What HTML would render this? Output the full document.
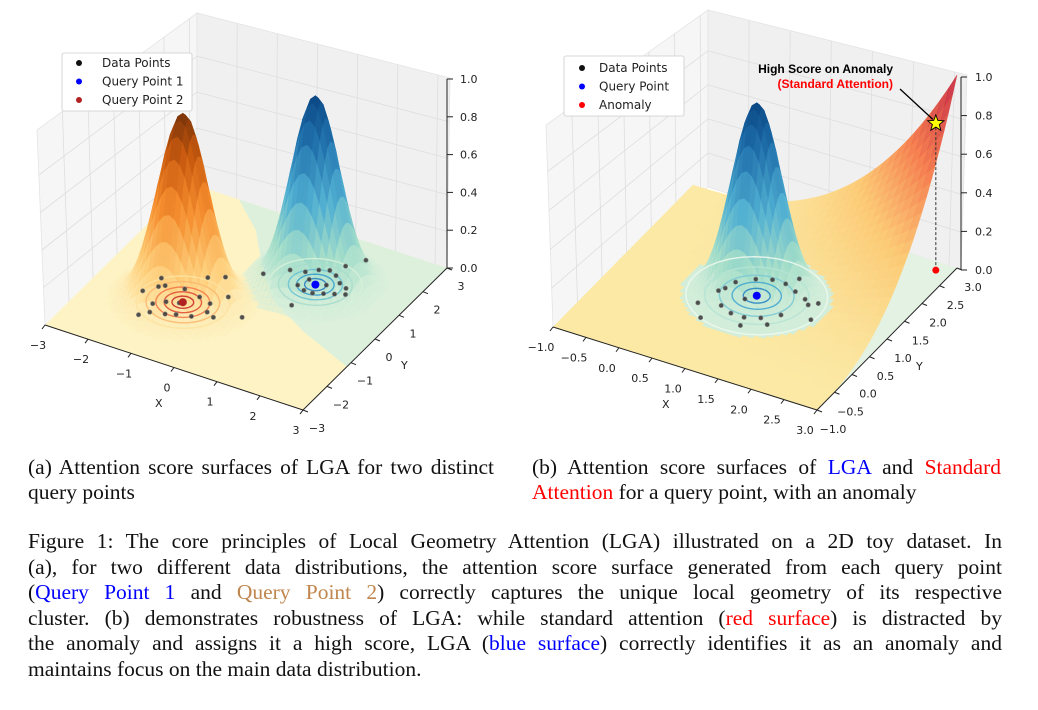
<!DOCTYPE html>
<html><head><meta charset="utf-8">
<style>
body{margin:0;background:#fff;width:1038px;height:710px;overflow:hidden;position:relative;font-family:"Liberation Serif",serif;}
svg{position:absolute;left:0;top:0;}
.cap{position:absolute;font-size:21.5px;line-height:24.5px;color:#111;}
.ln{text-align:justify;text-align-last:justify;white-space:nowrap;}
.ln.last{text-align-last:left;}
.fig{position:absolute;left:28px;top:529px;width:974px;font-size:21.5px;line-height:25.6px;color:#111;}
</style></head><body>
<svg id="chart" width="1038" height="450" viewBox="0 0 1038 450" font-family="'DejaVu Sans','Liberation Sans',sans-serif"></svg>

<div class="cap" style="left:28px;top:455px;width:466px;">
<div class="ln">(a) Attention score surfaces of LGA for two distinct</div>
<div class="ln last">query points</div></div>
<div class="cap" style="left:532px;top:455px;width:469px;">
<div class="ln">(b) Attention score surfaces of <span style="color:#0000ff">LGA</span> and <span style="color:#ff0000">Standard</span></div>
<div class="ln last"><span style="color:#ff0000">Attention</span> for a query point, with an anomaly</div></div>

<div class="fig">
<div class="ln">Figure 1: The core principles of Local Geometry Attention (LGA) illustrated on a 2D toy dataset. In</div>
<div class="ln">(a), for two different data distributions, the attention score surface generated from each query point</div>
<div class="ln">(<span style="color:#0000ff">Query Point 1</span> and <span style="color:#c0864e">Query Point 2</span>) correctly captures the unique local geometry of its respective</div>
<div class="ln">cluster. (b) demonstrates robustness of LGA: while standard attention (<span style="color:#ff0000">red surface</span>) is distracted by</div>
<div class="ln">the anomaly and assigns it a high score, LGA (<span style="color:#0000ff">blue surface</span>) correctly identifies it as an anomaly and</div>
<div class="ln last">maintains focus on the main data distribution.</div>
</div>

<script>
// ---------- data ----------
const zTicks=[0,0.2,0.4,0.6,0.8,1.0];
const zTickLabels=["0.0","0.2","0.4","0.6","0.8","1.0"];
const aXTicks=[-3,-2,-1,0,1,2,3];
const aYTicks=[-3,-2,-1,0,1,2,3];
const bTicks=[-1,-0.5,0,0.5,1,1.5,2,2.5,3];
const bTickLabels=["\u22121.0","\u22120.5","0.0","0.5","1.0","1.5","2.0","2.5","3.0"];
const aQuery1=[1.0,1.1];      // blue
const aQuery2=[-1.0,-0.84];   // orange
const aSigma=[0.5,0.52];
const aPointsX=[-1.9,-1.7,-1.5,-1.3,-1.1,-0.9,-0.6,-0.4,-1.6,-1.2,-0.8,-0.5,-1.4,-0.2,-1.0,-0.7,-1.8,-0.3,0.3,-1.55,-1.05, 0.3,0.6,0.8,1.0,1.2,1.4,1.6,0.7,0.9,1.1,1.3,1.5,0.8,1.2,1.7,1.45,0.95,-0.1,1.2];
const aPointsY=[-0.9,-0.6,-1.2,-1.0,-1.4,-1.3,-1.2,-0.9,-0.5,-0.4,-0.5,-0.6,-1.5,-1.0,0.2,0.4,-0.3,-0.2,-0.7,-1.7,-0.9, 1.3,1.4,1.6,1.7,1.6,1.4,1.3,0.9,0.8,0.8,0.9,1.0,1.2,1.2,1.1,2.4,0.2,0.9,2.0];
const bQuery=[1.0,1.05];
const bSigma=0.34;
const bPointsX=[0.5,0.6,0.8,1.0,1.2,1.4,1.6,1.7,0.7,0.9,1.1,1.3,1.5,0.4,0.6,1.9,1.8,0.9,1.3,0.55,1.15,1.45];
const bPointsY=[0.9,1.2,1.4,1.5,1.5,1.4,1.3,1.2,0.6,0.5,0.5,0.6,0.8,0.5,0.2,0.9,1.3,0.9,1.7,1.0,0.3,0.5];
const anomaly=[2.78,2.81];
const redPower=2.6;

const NS="http://www.w3.org/2000/svg";
const svg=document.getElementById('chart');
function mk(tag,attrs,parent){const e=document.createElementNS(NS,tag);for(const k in attrs)e.setAttribute(k,attrs[k]);(parent||svg).appendChild(e);return e;}
function lerp(a,b,t){return a+(b-a)*t;}
function cmap(stops,v){v=Math.max(0,Math.min(1,v));for(let i=1;i<stops.length;i++){if(v<=stops[i][0]){const t=(v-stops[i-1][0])/(stops[i][0]-stops[i-1][0]);const a=stops[i-1][1],b=stops[i][1];return `rgb(${Math.round(lerp(a[0],b[0],t))},${Math.round(lerp(a[1],b[1],t))},${Math.round(lerp(a[2],b[2],t))})`;}}const l=stops[stops.length-1][1];return `rgb(${l})`;}
const orangeMap=[[0,[254,243,196]],[0.25,[254,205,120]],[0.55,[245,140,45]],[0.8,[200,90,15]],[1,[120,50,8]]];
const blueMap=[[0,[220,241,220]],[0.25,[160,220,200]],[0.5,[80,175,210]],[0.8,[30,110,170]],[1,[10,70,130]]];
const redMap=[[0,[253,232,160]],[0.3,[253,200,110]],[0.6,[246,120,70]],[1,[195,30,60]]];

function PA(x,y,z){const xp=x+3,yp=y+3;return [45+43*xp+24*yp,325+14.17*xp-23.67*yp-189*z];}
function PB(x,y,z){const xp=x+1,yp=y+1;return [553+66*xp+35*yp,327+20.75*xp-35.5*yp-193*z];}
function pts(arr){return arr.map(p=>p[0].toFixed(1)+','+p[1].toFixed(1)).join(' ');}

function panes(g,left,back,gridL,gridB){
  mk('polygon',{points:pts(left),fill:'#f6f6f6',stroke:'#e4e4e4','stroke-width':0.8},g);
  mk('polygon',{points:pts(back),fill:'#f0f0f0',stroke:'#e4e4e4','stroke-width':0.8},g);
  gridL.concat(gridB).forEach(l=>mk('line',{x1:l[0][0],y1:l[0][1],x2:l[1][0],y2:l[1][1],stroke:'#dedede','stroke-width':0.8},g));
}

// ===== Panel A =====
const gA=mk('g',{});
(function(){
  const left=[[37,130],[197,13],[197,200],[45,325]];
  const back=[[197,13],[450,78],[447,268],[197,200]];
  const gl=[],gb=[];
  for(let i=1;i<7;i++){const t=i/6.3;gl.push([[lerp(45,197,t),lerp(325,200,t)],[lerp(37,197,t),lerp(130,13,t)]]);}
  for(let i=1;i<7;i++){const t=i/6.3;gb.push([[lerp(197,447,t),lerp(200,268,t)],[lerp(197,450,t),lerp(13,78,t)]]);}
  for(let k=1;k<5;k++){const t=k/5.2;gl.push([[lerp(45,37,t),lerp(325,130,t)],[197,lerp(200,13,t)]]);gb.push([[197,lerp(200,13,t)],[lerp(447,450,t),lerp(268,78,t)]]);}
  panes(gA,left,back,gl,gb);
  const f=mk('polygon',{points:pts([PA(-3,-3,0),PA(-3,3,0),PA(3,3,0),PA(3,-3,0)]),fill:'#fdf3c4'},gA);
  const gz=mk('polygon',{points:pts([PA(-1.84,3,0),PA(3,3,0),PA(3,-1.17,0),PA(1.6,-0.5,0),PA(0.5,0.2,0),PA(-0.3,1.2,0),PA(-1.0,2.2,0)]),fill:'#ddf0dc'},gA);
  const quads=[];
  [[aQuery2,aSigma[1],orangeMap],[aQuery1,aSigma[0],blueMap]].forEach(s=>{
    const cx=s[0][0],cy=s[0][1],sg=s[1],N=36,R=2.1;
    const fz=(x,y)=>Math.exp(-((x-cx)**2+(y-cy)**2)/(2*sg*sg));
    for(let i=0;i<N;i++)for(let j=0;j<N;j++){
      const x0=cx-R+2*R*i/N,x1=cx-R+2*R*(i+1)/N,y0=cy-R+2*R*j/N,y1=cy-R+2*R*(j+1)/N;
      const zs=[fz(x0,y0),fz(x1,y0),fz(x1,y1),fz(x0,y1)];const zm=(zs[0]+zs[1]+zs[2]+zs[3])/4;
      if(Math.max(...zs)<0.02)continue;
      quads.push({d:((y0+y1)/2-(x0+x1)/2),p:[PA(x0,y0,zs[0]),PA(x1,y0,zs[1]),PA(x1,y1,zs[2]),PA(x0,y1,zs[3])],c:cmap(s[2],zm),o:zm<0.1?0.6:0.95});
    }
  });
  quads.sort((a,b)=>b.d-a.d);
  const sg=mk('g',{},gA);
  quads.forEach(q=>mk('polygon',{points:pts(q.p),fill:q.c,stroke:q.c,'stroke-width':0.4,'fill-opacity':q.o},sg));
  // contours & points on top
  [[aQuery2,['#fde2a0','#fbb870','#f47a4a','#e0503a','#c92f2f']],[aQuery1,['#d6f0d8','#a8dccc','#6cc3d2','#3aa0cc','#2a80c0']]].forEach((c,ci)=>{
    const rs=[0.95,0.75,0.55,0.38,0.22];
    rs.forEach((r,i)=>{const ring=[];for(let a=0;a<=36;a++){const th=a/36*2*Math.PI;ring.push(PA(c[0][0]+r*Math.cos(th),c[0][1]+r*Math.sin(th),0));}
      const p=mk('polyline',{points:pts(ring),fill:'none',stroke:c[1][i],'stroke-width':1.4,'stroke-opacity':0.9},gA);});
  });
  aPointsX.forEach((x,i)=>{const p=PA(x,aPointsY[i],0);const c=mk('circle',{cx:p[0],cy:p[1],r:2.2,fill:'#333',stroke:'#888','stroke-width':0.6,'fill-opacity':0.85},gA);});
  let p=PA(aQuery2[0],aQuery2[1],0);let c=mk('circle',{cx:p[0],cy:p[1],r:4,fill:'#b22222'},gA);
  p=PA(aQuery1[0],aQuery1[1],0);c=mk('circle',{cx:p[0],cy:p[1],r:4,fill:'#0000ff'},gA);
  const ax=mk('g',{stroke:'#222','stroke-width':1,fill:'none'},gA);
  let a=PA(-3,-3,0),b=PA(3,-3,0),d=PA(3,3,0);
  mk('line',{x1:a[0],y1:a[1],x2:b[0],y2:b[1]},ax);
  mk('line',{x1:b[0],y1:b[1],x2:d[0],y2:d[1]},ax);
  mk('line',{x1:447,y1:268,x2:447,y2:79},ax);
  aXTicks.forEach(v=>{const q=PA(v,-3,0);mk('line',{x1:q[0],y1:q[1],x2:q[0]-3,y2:q[1]+4},ax);const t=mk('text',{x:q[0]-7,y:q[1]+24,'font-size':11,fill:'#222','text-anchor':'middle'},gA);t.textContent=v<0?'\u2212'+(-v):String(v);});
  aYTicks.forEach(v=>{const q=PA(3,v,0);mk('line',{x1:q[0],y1:q[1],x2:q[0]+5,y2:q[1]+2},ax);const t=mk('text',{x:q[0]+14,y:q[1]+22,'font-size':11,fill:'#222','text-anchor':'middle'},gA);t.textContent=v<0?'\u2212'+(-v):String(v);});
  zTicks.forEach((v,i)=>{const y=268-189*v;mk('line',{x1:447,y1:y,x2:453,y2:y},ax);const t=mk('text',{x:460,y:y+4,'font-size':11,fill:'#222'},gA);t.textContent=zTickLabels[i];});
  let t=mk('text',{x:155,y:407,'font-size':11,fill:'#222'},gA);t.textContent='X';
  t=mk('text',{x:401,y:369,'font-size':11,fill:'#222'},gA);t.textContent='Y';
  const lg=mk('g',{},gA);
  mk('rect',{x:62,y:53,width:130,height:58,fill:'#fff',stroke:'#ccc','stroke-width':0.8,rx:2},lg);
  [['Data Points','#111'],['Query Point 1','#0000ff'],['Query Point 2','#b22222']].forEach((e,i)=>{const gg=mk('g',{},lg);mk('circle',{cx:79,cy:63+i*18.5,r:3,fill:e[1]},gg);const tt=mk('text',{x:102,y:67+i*18.5,'font-size':12,fill:'#222'},gg);tt.textContent=e[0];});
})();

// ===== Panel B =====
const gB=mk('g',{});
(function(){
  const left=[[546,125],[708,10],[708,187],[553,327]];
  const back=[[708,10],[967,75],[961,270],[708,187]];
  const gl=[],gb=[];
  for(let i=1;i<7;i++){const t=i/6.3;gl.push([[lerp(553,708,t),lerp(327,187,t)],[lerp(546,708,t),lerp(125,10,t)]]);gb.push([[lerp(708,961,t),lerp(187,270,t)],[lerp(708,967,t),lerp(10,75,t)]]);}
  for(let k=1;k<5;k++){const t=k/5.2;gl.push([[lerp(553,546,t),lerp(327,125,t)],[708,lerp(187,10,t)]]);gb.push([[708,lerp(187,10,t)],[lerp(961,967,t),lerp(270,75,t)]]);}
  panes(gB,left,back,gl,gb);
  const f=mk('polygon',{points:pts([PB(-1,-1,0),PB(-1,3,0),PB(3,3,0),PB(3,-1,0)]),fill:'#e4f2e4'},gB);
  const N=32,rz=(x,y)=>Math.pow(Math.max(0,(x+1)*(y+1)/16),redPower);
  const rq=[];
  for(let i=0;i<N;i++)for(let j=0;j<N;j++){
    const x0=-1+4*i/N,x1=-1+4*(i+1)/N,y0=-1+4*j/N,y1=-1+4*(j+1)/N;
    const zs=[rz(x0,y0),rz(x1,y0),rz(x1,y1),rz(x0,y1)];const zm=(zs[0]+zs[1]+zs[2]+zs[3])/4;
    rq.push({d:((y0+y1)/2-(x0+x1)/2),p:[PB(x0,y0,zs[0]),PB(x1,y0,zs[1]),PB(x1,y1,zs[2]),PB(x0,y1,zs[3])],c:cmap(redMap,zm)});
  }
  rq.sort((a,b)=>b.d-a.d);
  const rg=mk('g',{},gB);
  rq.forEach(q=>mk('polygon',{points:pts(q.p),fill:q.c,stroke:q.c,'stroke-width':0.4,'fill-opacity':0.93},rg));
  const cx=bQuery[0],cy=bQuery[1],sg=bSigma,M=36,R=1.3;
  const fz=(x,y)=>Math.exp(-((x-cx)**2+(y-cy)**2)/(2*sg*sg));
  // jagged pale base
  const bg=mk('g',{},gB);
  for(let i=0;i<M;i++)for(let j=0;j<M;j++){
    const x0=cx-R+2*R*i/M,x1=cx-R+2*R*(i+1)/M,y0=cy-R+2*R*j/M,y1=cy-R+2*R*(j+1)/M;
    const zc=fz((x0+x1)/2,(y0+y1)/2);if(zc<0.012)continue;
    mk('polygon',{points:pts([PB(x0,y0,0),PB(x1,y0,0),PB(x1,y1,0),PB(x0,y1,0)]),fill:'#d2eedb',stroke:'#d2eedb','stroke-width':0.4},bg);
  }
  const pg=mk('g',{},gB);
  const raised=[];
  for(let i=0;i<M;i++)for(let j=0;j<M;j++){
    const x0=cx-R+2*R*i/M,x1=cx-R+2*R*(i+1)/M,y0=cy-R+2*R*j/M,y1=cy-R+2*R*(j+1)/M;
    const zs=[fz(x0,y0),fz(x1,y0),fz(x1,y1),fz(x0,y1)];const zm=(zs[0]+zs[1]+zs[2]+zs[3])/4;
    if(Math.max(...zs)<0.05)continue;
    raised.push({d:((y0+y1)/2-(x0+x1)/2),p:[PB(x0,y0,zs[0]),PB(x1,y0,zs[1]),PB(x1,y1,zs[2]),PB(x0,y1,zs[3])],c:cmap(blueMap,zm),o:zm<0.15?0.6:0.95});
  }
  raised.sort((a,b)=>b.d-a.d);
  raised.forEach(q=>mk('polygon',{points:pts(q.p),fill:q.c,stroke:q.c,'stroke-width':0.4,'fill-opacity':q.o},pg));
  const rs=[0.95,0.7,0.5,0.33,0.18];const cols=['#eef8ee','#b6e3d4','#7ccad4','#46a8cf','#2a86c4'];
  rs.forEach((r,i)=>{const ring=[];for(let a=0;a<=36;a++){const th=a/36*2*Math.PI;ring.push(PB(cx+r*Math.cos(th),cy+r*Math.sin(th),0));}const p=mk('polyline',{points:pts(ring),fill:'none',stroke:cols[i],'stroke-width':1.4,'stroke-opacity':0.9},gB);});
  bPointsX.forEach((x,i)=>{const p=PB(x,bPointsY[i],0);const c=mk('circle',{cx:p[0],cy:p[1],r:2.2,fill:'#333',stroke:'#888','stroke-width':0.6,'fill-opacity':0.85},gB);});
  let p=PB(cx,cy,0);let c=mk('circle',{cx:p[0],cy:p[1],r:4,fill:'#0000ff'},gB);
  const an=PB(anomaly[0],anomaly[1],0),st=PB(anomaly[0],anomaly[1],rz(anomaly[0],anomaly[1]));
  mk('line',{x1:an[0],y1:an[1],x2:st[0],y2:st[1],stroke:'#333','stroke-width':1,'stroke-dasharray':'3,2'},gB);
  c=mk('circle',{cx:an[0],cy:an[1],r:3.5,fill:'#ff0000'},gB);
  mk('line',{x1:900,y1:89,x2:st[0]-3,y2:st[1]-4,stroke:'#000','stroke-width':1.3},gB);
  const star=[];for(let k=0;k<10;k++){const r=k%2?3.6:8.5,th=-Math.PI/2+k*Math.PI/5;star.push([st[0]+r*Math.cos(th),st[1]+r*Math.sin(th)]);}
  mk('polygon',{points:pts(star),fill:'#ffff00',stroke:'#000','stroke-width':0.9},gB);
  let t=mk('text',{x:893,y:73,'font-size':12,'font-weight':'bold',fill:'#000','text-anchor':'end','font-family':"'Liberation Sans',sans-serif"},gB);t.textContent='High Score on Anomaly';
  t=mk('text',{x:893,y:88,'font-size':12,'font-weight':'bold',fill:'#ff0000','text-anchor':'end','font-family':"'Liberation Sans',sans-serif"},gB);t.textContent='(Standard Attention)';
  const ax=mk('g',{stroke:'#222','stroke-width':1,fill:'none'},gB);
  let a=PB(-1,-1,0),b=PB(3,-1,0),d=PB(3,3,0);
  mk('line',{x1:a[0],y1:a[1],x2:b[0],y2:b[1]},ax);
  mk('line',{x1:b[0],y1:b[1],x2:d[0],y2:d[1]},ax);
  mk('line',{x1:961,y1:270,x2:961,y2:77},ax);
  bTicks.forEach((v,i)=>{const q=PB(v,-1,0);mk('line',{x1:q[0],y1:q[1],x2:q[0]-3,y2:q[1]+4},ax);const tt=mk('text',{x:q[0]-12,y:q[1]+24,'font-size':11,fill:'#222','text-anchor':'middle'},gB);tt.textContent=bTickLabels[i];});
  bTicks.forEach((v,i)=>{const q=PB(3,v,0);mk('line',{x1:q[0],y1:q[1],x2:q[0]+5,y2:q[1]+2},ax);const tt=mk('text',{x:q[0]+16,y:q[1]+23,'font-size':11,fill:'#222','text-anchor':'middle'},gB);tt.textContent=bTickLabels[i];});
  zTicks.forEach((v,i)=>{const y=270-193*v;mk('line',{x1:961,y1:y,x2:967,y2:y},ax);const tt=mk('text',{x:975,y:y+4,'font-size':11,fill:'#222'},gB);tt.textContent=zTickLabels[i];});
  t=mk('text',{x:662,y:408,'font-size':11,fill:'#222'},gB);t.textContent='X';
  t=mk('text',{x:916,y:370,'font-size':11,fill:'#222'},gB);t.textContent='Y';
  const lg=mk('g',{},gB);
  mk('rect',{x:564,y:56,width:120,height:60,fill:'#fff',stroke:'#ccc','stroke-width':0.8,rx:2},lg);
  [['Data Points','#111'],['Query Point','#0000ff'],['Anomaly','#ff0000']].forEach((e,i)=>{const gg=mk('g',{},lg);mk('circle',{cx:582,cy:68+i*18.5,r:3,fill:e[1]},gg);const tt=mk('text',{x:599,y:72+i*18.5,'font-size':12,fill:'#222'},gg);tt.textContent=e[0];});
})();
</script>
</body></html>
